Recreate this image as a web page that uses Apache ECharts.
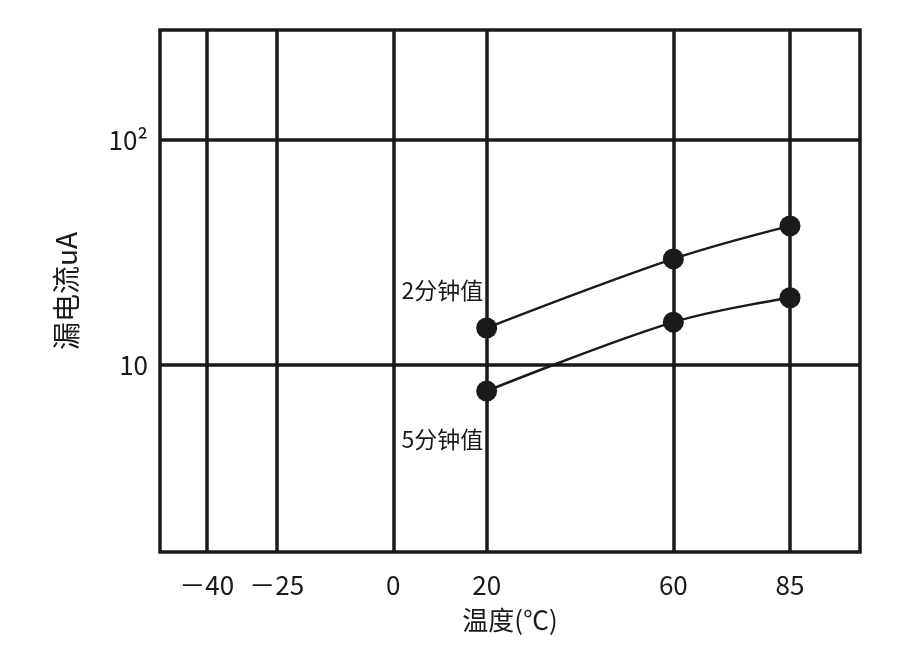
<!DOCTYPE html>
<html><head><meta charset="utf-8">
<script src="https://cdn.jsdelivr.net/npm/echarts@6/dist/echarts.min.js"></script>
<style>html,body{margin:0;padding:0;background:#fff}#c{width:900px;height:650px}</style>
</head><body><div id="c"></div>
<script>
const xTicks = [-40, -25, 0, 20, 60, 85];
const yTicks = [10, 100];
const temps = [20, 60, 85];
const twoMin = [14.6, 29.6, 41.5];
const fiveMin = [7.66, 15.5, 19.9];
const seriesNames = ['2分钟值', '5分钟值'];

const F = '"Noto Sans CJK SC", "DejaVu Sans", sans-serif';
const chart = echarts.init(document.getElementById('c'));
const lineSt = {color: '#1a1a1a', width: 3.5, type: 'solid'};
function mkSeries(name, vals, labelPos, labelOff) {
  return {
    name, type: 'line', smooth: 0.35, symbol: 'circle', symbolSize: 21,
    itemStyle: {color: '#1a1a1a'}, lineStyle: {color: '#1a1a1a', width: 2.5},
    data: temps.map((t, i) => ({value: [t, vals[i]],
      label: i === 0 ? {show: true, formatter: name, position: labelPos, offset: labelOff,
        color: '#1a1a1a', fontSize: 23, fontFamily: F} : {show: false}})),
    z: 5
  };
}
chart.setOption({
  animation: false,
  grid: {left: 160, right: 40, top: 30, bottom: 98},
  xAxis: {
    type: 'value', min: -50, max: 100,
    name: '温度(℃)', nameLocation: 'middle', nameGap: 55,
    nameTextStyle: {fontSize: 26, color: '#1a1a1a', fontFamily: F},
    axisLine: {show: false}, axisTick: {show: false}, splitLine: {show: false},
    axisLabel: {customValues: xTicks, fontSize: 26, color: '#1a1a1a', fontFamily: F, margin: 20,
      formatter: v => v < 0 ? '－' + Math.abs(v) : String(v)}
  },
  yAxis: {
    type: 'log', logBase: 10, min: 1.476, max: 308,
    name: '漏电流uA', nameLocation: 'middle', nameGap: 80, nameRotate: 90,
    nameTextStyle: {fontSize: 28, color: '#1a1a1a', fontFamily: F},
    axisLine: {show: false}, axisTick: {show: false}, splitLine: {show: false},
    axisLabel: {customValues: yTicks, fontSize: 26, color: '#1a1a1a', fontFamily: F, margin: 12,
      formatter: v => Math.abs(v - 100) < 1 ? '10²' : '10'}
  },
  series: [
    {type: 'line', data: [], silent: true,
      markLine: {symbol: 'none', silent: true, label: {show: false}, lineStyle: lineSt,
        data: xTicks.map(v => ({xAxis: v})).concat(yTicks.map(v => ({yAxis: v})))}},
    mkSeries(seriesNames[0], twoMin, 'left', [12, -38]),
    mkSeries(seriesNames[1], fiveMin, 'left', [12, 48])
  ],
  graphic: [{type: 'rect', shape: {x: 160, y: 30, width: 700, height: 522}, z: 10,
    style: {fill: 'none', stroke: '#1a1a1a', lineWidth: 3.5}}]
});
</script></body></html>
